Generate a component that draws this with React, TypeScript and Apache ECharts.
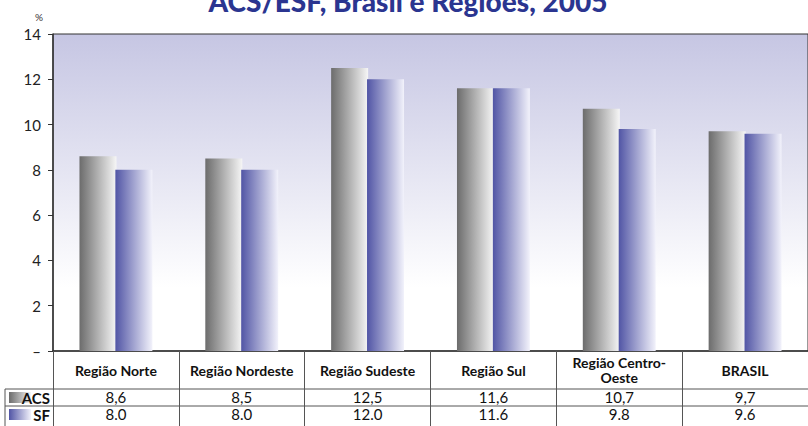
import React, { useEffect, useRef } from "react";
import * as echarts from "echarts";

const categories = [
  "Região Norte",
  "Região Nordeste",
  "Região Sudeste",
  "Região Sul",
  "Região Centro-\nOeste",
  "BRASIL",
];
const acsValues = [8.6, 8.5, 12.5, 11.6, 10.7, 9.7];
const sfValues = [8.0, 8.0, 12.0, 11.6, 9.8, 9.6];
const seriesNames = ["ACS", "SF"];
const yMin = 0;
const yMax = 14;
const yInterval = 2;

const FONT = "Lato, 'Liberation Sans', sans-serif";

export default function App() {
  const ref = useRef<HTMLDivElement>(null);

  useEffect(() => {
    if (!ref.current) return;
    const chart = echarts.init(ref.current, null, { renderer: "svg" });

    const grad = (a: string, b: string) =>
      new echarts.graphic.LinearGradient(0, 0, 1, 0, [
        { offset: 0, color: a },
        { offset: 1, color: b },
      ]);
    const acsFill = () => grad("#6c6c6c", "#f6f6f6");
    const sfFill = () => grad("#5155a5", "#f2f2fb");

    const gridLeft = 53;
    const gridTop = 34;
    const gridBottom = 75;
    const axisY = 426 - gridBottom;
    const row1 = axisY + 38;
    const row2 = row1 + 17;

    const valueAxis = (vals: string[], margin: number) => ({
      type: "category",
      data: categories,
      position: "bottom",
      axisLine: { show: false },
      axisTick: { show: false },
      axisLabel: {
        interval: 0,
        margin,
        verticalAlign: "middle",
        fontFamily: FONT,
        fontSize: 15,
        color: "#111",
        formatter: (_v: string, i: number) => vals[i],
      },
    });

    const option: any = {
      animation: false,
      title: {
        text: "ACS/ESF, Brasil e Regiões, 2005",
        left: 403,
        textAlign: "center",
        top: -18,
        textStyle: {
          fontFamily: FONT,
          fontWeight: 900,
          fontSize: 28,
          color: "#2b3590",
        },
      },
      grid: {
        left: gridLeft,
        width: 762,
        top: gridTop,
        bottom: gridBottom,
        show: true,
        borderColor: "#333",
        borderWidth: 1,
        backgroundColor: new echarts.graphic.LinearGradient(0, 0, 0, 1, [
          { offset: 0, color: "#c6c6e3" },
          { offset: 0.8, color: "#ffffff" },
          { offset: 1, color: "#ffffff" },
        ]),
      },
      xAxis: [
        {
          type: "category",
          data: categories,
          position: "bottom",
          axisLine: { show: true, lineStyle: { color: "#333", width: 1.5 } },
          axisTick: {
            show: true,
            length: 75,
            alignWithLabel: false,
            lineStyle: { color: "#555", width: 1 },
          },
          axisLabel: {
            interval: 0,
            margin: 19,
            verticalAlign: "middle",
            lineHeight: 15,
            fontFamily: FONT,
            fontWeight: "bold",
            fontSize: 14,
            color: "#111",
          },
        },
        valueAxis(acsValues.map((v) => v.toFixed(1).replace(".", ",")), 46),
        valueAxis(sfValues.map((v) => v.toFixed(1)), 63),
      ],
      yAxis: {
        type: "value",
        min: yMin,
        max: yMax,
        interval: yInterval,
        name: "%",
        nameLocation: "end",
        nameGap: 12,
        nameTextStyle: {
          fontFamily: FONT,
          fontSize: 10,
          color: "#333",
          align: "right",
          padding: [0, 10, 0, 0],
        },
        axisLine: { show: true, lineStyle: { color: "#333", width: 1.5 } },
        axisTick: { show: true, length: 5, lineStyle: { color: "#333" } },
        splitLine: { show: false },
        axisLabel: {
          margin: 12,
          fontFamily: FONT,
          fontSize: 15,
          color: "#222",
          formatter: (v: number) => (v === 0 ? "–" : String(v)),
        },
      },
      series: [
        {
          name: seriesNames[0],
          type: "bar",
          data: acsValues,
          barWidth: 37,
          barGap: "-3%",
          itemStyle: { color: acsFill() },
        },
        {
          name: seriesNames[1],
          type: "bar",
          data: sfValues,
          barWidth: 37,
          itemStyle: { color: sfFill() },
        },
      ],
      graphic: [
        { type: "line", shape: { x1: 5, y1: row1, x2: 808, y2: row1 }, style: { stroke: "#555", lineWidth: 1 } },
        { type: "line", shape: { x1: 5, y1: row2, x2: 808, y2: row2 }, style: { stroke: "#555", lineWidth: 1 } },
        { type: "line", shape: { x1: 5, y1: row1, x2: 5, y2: 426 }, style: { stroke: "#555", lineWidth: 1 } },
        { type: "rect", shape: { x: 9, y: row1 + 3, width: 22, height: 11 }, style: { fill: acsFill() } },
        { type: "rect", shape: { x: 9, y: row2 + 3, width: 22, height: 11 }, style: { fill: sfFill() } },
        {
          type: "text",
          x: 50,
          y: row1 + 9,
          style: { text: seriesNames[0], align: "right", verticalAlign: "middle", font: `bold 15px ${FONT}`, fill: "#111" },
        },
        {
          type: "text",
          x: 50,
          y: row2 + 9,
          style: { text: seriesNames[1], align: "right", verticalAlign: "middle", font: `bold 15px ${FONT}`, fill: "#111" },
        },
      ],
    };

    chart.setOption(option);
    return () => chart.dispose();
  }, []);

  return <div ref={ref} style={{ width: 808, height: 426, position: "absolute", left: 0, top: 0 }} />;
}
